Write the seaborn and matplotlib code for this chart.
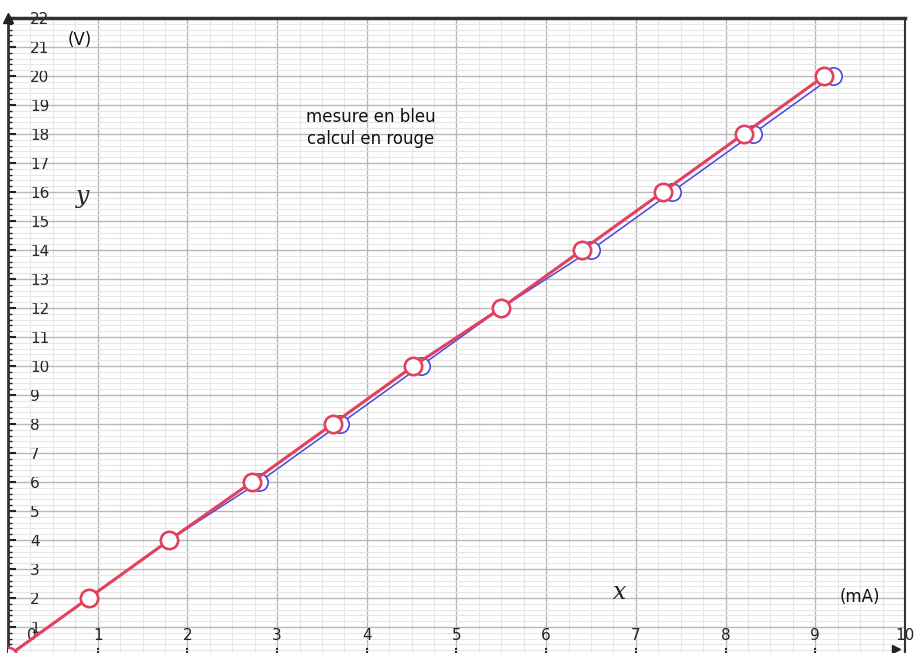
import numpy as np
import pandas as pd
import seaborn as sns
import matplotlib.pyplot as plt
from matplotlib.ticker import MultipleLocator

# mesures (bleu) et calcul (rouge), courant en mA, tension en V
tension = [0, 2, 4, 6, 8, 10, 12, 14, 16, 18, 20]
courant_mesure = [0, 0.9, 1.8, 2.8, 3.7, 4.6, 5.5, 6.5, 7.4, 8.3, 9.2]
courant_calcul = [0, 0.9, 1.8, 2.72, 3.62, 4.52, 5.5, 6.4, 7.3, 8.2, 9.1]

x_ticks = list(range(0, 11))
y_ticks = list(range(1, 23))

sns.set_theme(style="white")
plt.rcParams['font.family'] = ['DejaVu Sans']

fig = plt.figure(figsize=(9.14, 6.53), dpi=100)
ax = fig.add_axes([8 / 914, -3 / 653, 897 / 914, 638 / 653])

mesure = pd.DataFrame({'I': courant_mesure, 'U': tension})
calcul = pd.DataFrame({'I': courant_calcul, 'U': tension})

sns.lineplot(data=mesure, x='I', y='U', sort=False, ax=ax, color='#4848e0',
             linewidth=1.1, marker='o', markersize=12.5, markerfacecolor='white',
             markeredgecolor='#4848e0', markeredgewidth=1.2, zorder=3)
sns.lineplot(data=calcul, x='I', y='U', sort=False, ax=ax, color='#e2405c',
             linewidth=2.2, marker='o', markersize=12.5, markerfacecolor='white',
             markeredgecolor='#e2405c', markeredgewidth=1.9, zorder=4)

ax.set_xlim(0, 10)
ax.set_ylim(0, 22)
ax.xaxis.set_major_locator(MultipleLocator(1))
ax.xaxis.set_minor_locator(MultipleLocator(0.25))
ax.yaxis.set_major_locator(MultipleLocator(1))
ax.yaxis.set_minor_locator(MultipleLocator(0.2))
ax.grid(which='major', color='#b8b8b8', linewidth=1.0)
ax.grid(which='minor', color='#e6e6e6', linewidth=0.8)
ax.set_axisbelow(True)

for s in ['left', 'top', 'right', 'bottom']:
    ax.spines[s].set_visible(True)
    ax.spines[s].set_color('#333333')
ax.spines['left'].set_linewidth(2.0)
ax.spines['top'].set_linewidth(2.5)
ax.spines['right'].set_linewidth(1.5)

ax.set_yticks(y_ticks)
ax.set_yticklabels([str(v) for v in y_ticks])
ax.tick_params(axis='y', which='major', direction='in', length=6, width=1.5,
               color='#222222', pad=-16, labelsize=11, labelcolor='#222222', left=True)
ax.tick_params(axis='y', which='minor', direction='in', length=3, width=1.0,
               color='#222222', left=True)
for lab in ax.get_yticklabels():
    lab.set_horizontalalignment('left')

ax.set_xticks(x_ticks)
ax.set_xticklabels([])
ax.tick_params(axis='x', which='major', direction='in', length=6, width=1.5,
               color='#222222', bottom=True)
for v in x_ticks:
    xv = v + 0.27 if v == 0 else v
    ax.text(xv, 0.72, str(v), ha='center', va='center', fontsize=11, color='#222222')

ax.set_xlabel('')
ax.set_ylabel('')

# fleches des axes
ax.plot(0, 22, marker='^', color='#222222', markersize=7, clip_on=False, zorder=6)
ax.plot(9.9, 0.25, marker='>', color='#222222', markersize=6, clip_on=False, zorder=6)

ax.text(0.80, 21.25, '(V)', ha='center', va='center', fontsize=12, color='#111111')
ax.text(9.5, 2.05, '(mA)', ha='center', va='center', fontsize=12, color='#111111')
ax.text(0.83, 15.85, 'y', ha='center', va='center', fontsize=17, style='italic',
        family=['DejaVu Serif'], color='#222222')
ax.text(6.82, 2.2, 'x', ha='center', va='center', fontsize=17, style='italic',
        family=['DejaVu Serif'], color='#222222')
ax.text(4.04, 18.2, 'mesure en bleu\ncalcul en rouge', ha='center', va='center',
        fontsize=12, color='#111111', linespacing=1.25)

plt.savefig('out.png', dpi=100)
